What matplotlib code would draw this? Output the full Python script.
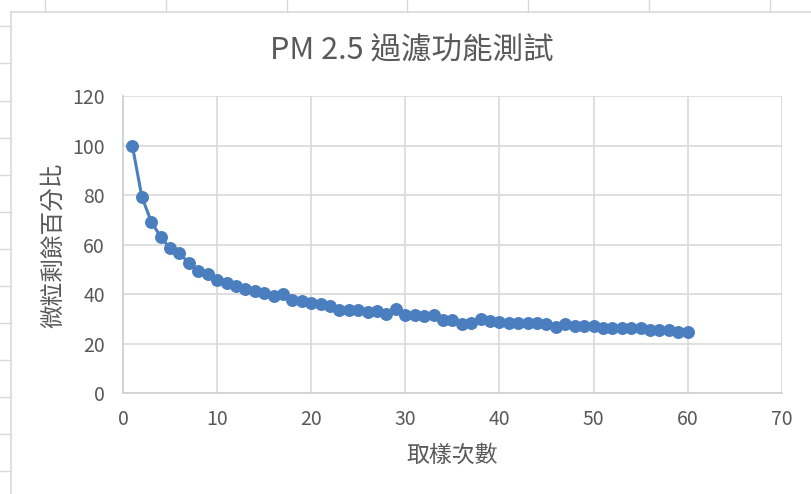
import matplotlib
matplotlib.use("Agg")
import matplotlib.pyplot as plt
from matplotlib.lines import Line2D

plt.rcParams['font.family'] = ['Noto Sans CJK TC', 'DejaVu Sans']

title = "PM 2.5 過濾功能測試"
x_label = "取樣次數"
y_label = "微粒剩餘百分比"

samples = list(range(1, 61))
remaining = [100, 79.5, 69.4, 63.3, 58.6, 56.8, 52.5, 49.5, 48.2, 46.0,
             44.7, 43.3, 42.0, 41.3, 40.6, 39.3, 40.3, 37.9, 37.2, 36.5,
             36.0, 35.2, 33.6, 33.8, 33.8, 32.9, 33.3, 32.2, 34.2, 31.6,
             31.8, 31.1, 31.5, 29.6, 29.7, 27.9, 28.4, 30.1, 29.2, 28.9,
             28.5, 28.5, 28.5, 28.5, 27.9, 27.0, 28.0, 27.1, 27.1, 27.3,
             26.3, 26.2, 26.3, 26.5, 26.5, 25.6, 25.6, 25.7, 24.9, 24.9]

x_ticks = [0, 10, 20, 30, 40, 50, 60, 70]
y_ticks = [0, 20, 40, 60, 80, 100, 120]

W, H = 811, 494
fig = plt.figure(figsize=(W / 100, H / 100), dpi=100)
fig.patch.set_facecolor("white")

# spreadsheet background marks
sheet = "#d9d9d9"
for yy in [26, 63, 101, 138, 175, 212, 249, 286, 323, 360, 397, 434, 471]:
    fig.add_artist(Line2D([0, 11 / W], [1 - yy / H, 1 - yy / H], color=sheet, lw=1))
for xx in [45, 166, 287, 407, 528, 649, 770]:
    fig.add_artist(Line2D([xx / W, xx / W], [1, 1 - 12 / H], color=sheet, lw=1))
# chart area border
fig.add_artist(Line2D([11 / W, 11 / W], [0, 1 - 12 / H], color=sheet, lw=1.2))
fig.add_artist(Line2D([11 / W, 1], [1 - 12 / H, 1 - 12 / H], color=sheet, lw=1.2))

ax = fig.add_axes([123 / W, 1 - 393.3 / H, (781.7 - 123) / W, (393.3 - 96.5) / H])
ax.plot(samples, remaining, color="#4a7ebf", lw=2.2, marker="o", markersize=8.3,
        markeredgecolor="#4a7ebf", markerfacecolor="#4a7ebf", zorder=3)

ax.set_xlim(0, 70)
ax.set_ylim(0, 120)
ax.set_xticks(x_ticks)
ax.set_yticks(y_ticks)
ax.grid(True, color="#d9d9d9", lw=1.2)
ax.set_axisbelow(True)
for s in ["top", "right"]:
    ax.spines[s].set_visible(False)
for s in ["left", "bottom"]:
    ax.spines[s].set_color("#cfcfcf")
    ax.spines[s].set_linewidth(1.2)
ax.tick_params(axis="both", length=0, labelsize=14, colors="#595959")
ax.tick_params(axis="x", pad=11)
ax.tick_params(axis="y", pad=13)

ax.set_xlabel(x_label, fontsize=16.5, color="#595959", labelpad=10)
ax.set_ylabel(y_label, fontsize=17, color="#595959", labelpad=5)

fig.text(412 / W, 1 - 51 / H, title, ha="center", va="center", fontsize=22, color="#595959")

fig.savefig("out.png", dpi=100)
